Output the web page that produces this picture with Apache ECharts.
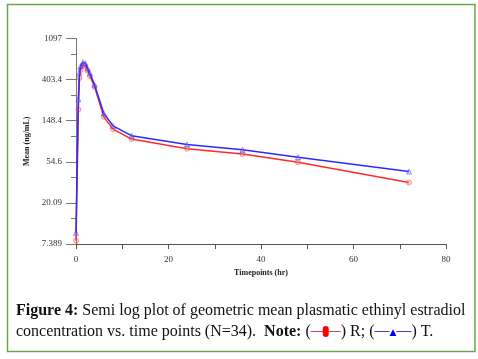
<!DOCTYPE html>
<html>
<head>
<meta charset="utf-8">
<script src="https://cdn.jsdelivr.net/npm/echarts@6/dist/echarts.min.js"></script>
<style>
html,body{margin:0;padding:0;background:#fff;}
#c{width:478px;height:359px;}
</style>
</head>
<body>
<div id="c"></div>
<script>
// Time points (hr)
var timepoints = [0, 0.5, 0.75, 1, 1.5, 2, 2.5, 3, 4, 6, 8, 12, 24, 36, 48, 72];
// Geometric mean concentration (ng/mL) - Reference (R)
var seriesR = [8.0, 195, 420, 510, 570, 560, 500, 440, 340, 163, 121, 95, 75, 66, 54, 33];
// Geometric mean concentration (ng/mL) - Test (T)
var seriesT = [9.7, 250, 480, 560, 615, 600, 530, 470, 355, 178, 131, 103, 83, 73, 61, 43];
// Y axis tick labels
var yTickLabels = ['7.389', '20.09', '54.6', '148.4', '403.4', '1097'];
var xTickLabels = ['0', '20', '40', '60', '80'];

function pairs(xs, ys) {
  return xs.map(function (x, i) { return [x, ys[i]]; });
}

var chart = echarts.init(document.getElementById('c'), null, {renderer: 'canvas'});
var serif = 'Liberation Serif';
var option = {
  animation: false,
  backgroundColor: '#fff',
  grid: {left: 76, right: 32, top: 38.5, bottom: 115, containLabel: false},
  xAxis: {
    type: 'value', min: 0, max: 80, interval: 20,
    name: 'Timepoints (hr)', nameLocation: 'middle', nameGap: 24,
    nameTextStyle: {fontFamily: serif, fontSize: 8, fontWeight: 'bold', color: '#222'},
    axisLine: {show: true, lineStyle: {color: '#555', width: 1}},
    axisTick: {show: true, length: 5, inside: false, lineStyle: {color: '#555'}},
    minorTick: {show: true, splitNumber: 2, length: 5, lineStyle: {color: '#555'}},
    splitLine: {show: false},
    axisLabel: {fontFamily: serif, fontSize: 9, color: '#333', margin: 11,
      formatter: function (v) { return xTickLabels[Math.round(v / 20)]; }}
  },
  yAxis: {
    type: 'log', logBase: Math.E, min: Math.exp(2), max: Math.exp(7),
    name: 'Mean (ng/mL)', nameLocation: 'middle', nameGap: 44, nameRotate: 90,
    nameTextStyle: {fontFamily: serif, fontSize: 8, fontWeight: 'bold', color: '#222'},
    axisLine: {show: true, lineStyle: {color: '#777', width: 1}},
    axisTick: {show: true, length: 10, lineStyle: {color: '#777'}},
    minorTick: {show: true, splitNumber: 2, length: 5, lineStyle: {color: '#777'}},
    splitLine: {show: false},
    axisLabel: {fontFamily: serif, fontSize: 9, color: '#333', margin: 14,
      formatter: function (v) {
        var k = Math.round(Math.log(v)) - 2;
        return yTickLabels[k] !== undefined ? yTickLabels[k] : '';
      }}
  },
  series: [
    {
      name: 'R', type: 'line', data: pairs(timepoints, seriesR),
      symbol: 'circle', symbolSize: 5, showSymbol: true,
      lineStyle: {color: '#ff2a2a', width: 1.5},
      itemStyle: {color: 'rgba(255,120,120,0.3)', borderColor: 'rgba(255,60,60,0.5)', borderWidth: 1},
      z: 2
    },
    {
      name: 'T', type: 'line', data: pairs(timepoints, seriesT),
      symbol: 'triangle', symbolSize: 5, showSymbol: true,
      lineStyle: {color: '#2a2aff', width: 1.5},
      itemStyle: {color: 'rgba(120,120,255,0.3)', borderColor: 'rgba(60,60,255,0.5)', borderWidth: 1},
      z: 3
    }
  ],
  title: {
    left: 11, top: 295,
    text: '{b|Figure 4:} Semi log plot of geometric mean plasmatic ethinyl estradiol\nconcentration vs. time points (N=34).  {b|Note:} ({rl|}{ro|}{rl|}) R; ({bl|}{bt|▲}{bl|}) T.',
    textStyle: {
      fontFamily: serif, fontSize: 16, fontWeight: 'normal', color: '#111', lineHeight: 21,
      rich: {
        b: {fontFamily: serif, fontSize: 16, fontWeight: 'bold', color: '#111', lineHeight: 21},
        rl: {width: 12, height: 1, backgroundColor: '#c0504d', lineHeight: 21},
        ro: {width: 6, height: 11, backgroundColor: '#ff0000', borderRadius: 3, lineHeight: 21},
        bl: {width: 15, height: 1, backgroundColor: '#4040c0', lineHeight: 21},
        bt: {fontFamily: 'DejaVu Sans', fontSize: 9, color: '#0000ff', lineHeight: 21, padding: [2, 0, 0, 0]}
      }
    }
  },
  graphic: [
    {type: 'rect', shape: {x: 7.5, y: 4.5, width: 467.5, height: 347},
     style: {fill: 'none', stroke: '#6aa84f', lineWidth: 1.5}, silent: true}
  ]
};
chart.setOption(option);
</script>
</body>
</html>
